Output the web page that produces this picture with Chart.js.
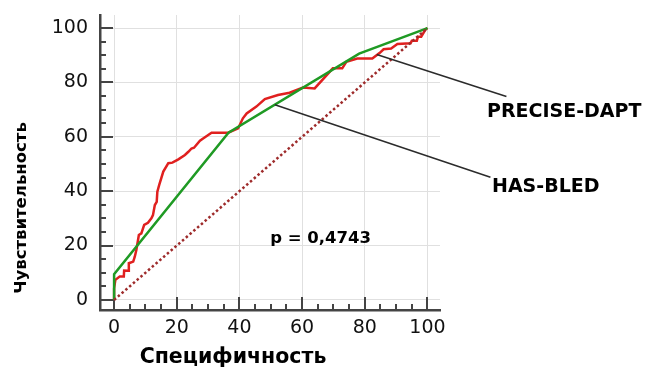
<!DOCTYPE html>
<html>
<head>
<meta charset="utf-8">
<script src="https://cdn.jsdelivr.net/npm/chart.js@4.4.1/dist/chart.umd.min.js"></script>
<style>
  html, body { margin: 0; padding: 0; background: #fff; }
</style>
</head>
<body>
<canvas id="roc" width="648" height="374"></canvas>
<script>
// PRECISE-DAPT ROC curve (specificity axis as drawn, sensitivity)
const preciseSpec = [0, 0, 0.4, 1.8, 3.1, 3.2, 4.5, 4.7, 6.1, 6.6, 7.1, 7.9, 8.7, 9.6, 10.8, 11.9, 12.4, 13, 13.6, 13.8, 14.4, 15.7, 17.3, 18.6, 20.5, 22.6, 23.7, 24.7, 25.5, 27.4, 28.4, 31.1, 36.4, 39.6, 41.1, 42.3, 45.4, 48.1, 52.3, 56, 60.3, 64, 69.8, 72.8, 74.1, 77.6, 82.4, 84.8, 86, 88.4, 90.4, 94.6, 95, 96.6, 97, 98, 99.4, 100];
const preciseSens = [0, 4.3, 7.4, 8.6, 8.6, 10.8, 10.7, 13.5, 14.1, 15.9, 18.4, 23.9, 24.5, 27.6, 28.4, 30, 31.2, 34.9, 36.1, 39.8, 42.3, 47.2, 50.3, 50.5, 51.7, 53.3, 54.5, 55.7, 56, 58.6, 59.4, 61.5, 61.5, 63.1, 66.8, 68.6, 71.1, 73.9, 75.4, 76.2, 78.1, 77.8, 85.2, 85.2, 87.6, 88.8, 88.8, 90.9, 92.2, 92.5, 94.1, 94.4, 95.3, 95.3, 96.8, 96.8, 99.5, 100];

// HAS-BLED ROC curve
const hasbledSpec = [0, 0, 36.5, 78.2, 100];
const hasbledSens = [0, 9.5, 61.5, 90.6, 100];

// reference diagonal
const diagSpec = [0, 100];
const diagSens = [0, 100];

const tickValues = [0, 5, 10, 15, 20, 25, 30, 35, 40, 45, 50, 55, 60, 65, 70, 75, 80, 85, 90, 95, 100];

// callouts: [x, y] from the curve to the label
const calloutFrom = [[83.8, 90.3], [51.3, 71.8]];
const calloutTo = [[125.2, 74.8], [120.1, 45.1]];
const calloutText = ['PRECISE-DAPT', 'HAS-BLED', 'p = 0,4743'];
const calloutTextPos = [[119.0, 69.0], [120.6, 41.4], [49.8, 22.7]];

const FONT = "'DejaVu Sans', Verdana, sans-serif";

const toPoints = (xs, ys) => xs.map((x, i) => ({ x: x, y: ys[i] }));
const setTicks = (scale) => { scale.ticks = tickValues.map(v => ({ value: v })); };
const gridColor = (ctx) => (ctx.tick && ctx.tick.value % 20 === 0 ? '#e0e0e0' : 'rgba(0,0,0,0)');

const extras = {
  id: 'extras',
  beforeDatasetsDraw(chart) {
    const { ctx, chartArea, scales } = chart;
    const x = scales.x, y = scales.y;
    ctx.save();
    ctx.strokeStyle = '#444';
    ctx.lineWidth = 2;
    tickValues.forEach(v => {
      const len = v % 20 === 0 ? 13 : 6;
      const py = Math.round(y.getPixelForValue(v));
      ctx.beginPath();
      ctx.moveTo(chartArea.left, py);
      ctx.lineTo(chartArea.left + len, py);
      ctx.stroke();
      const px = Math.round(x.getPixelForValue(v));
      ctx.beginPath();
      ctx.moveTo(px, chartArea.bottom);
      ctx.lineTo(px, chartArea.bottom - len);
      ctx.stroke();
    });
    ctx.restore();
  },
  afterDraw(chart) {
    const { ctx, scales } = chart;
    const x = scales.x, y = scales.y;
    ctx.save();
    ctx.strokeStyle = '#2b2b2b';
    ctx.lineWidth = 1.5;
    calloutFrom.forEach((p, i) => {
      ctx.beginPath();
      ctx.moveTo(x.getPixelForValue(p[0]), y.getPixelForValue(p[1]));
      ctx.lineTo(x.getPixelForValue(calloutTo[i][0]), y.getPixelForValue(calloutTo[i][1]));
      ctx.stroke();
    });
    ctx.fillStyle = '#000';
    ctx.textBaseline = 'middle';
    ctx.textAlign = 'left';
    calloutText.forEach((t, i) => {
      ctx.font = 'bold ' + (i < 2 ? 19 : 16.5) + 'px ' + FONT;
      ctx.fillText(t, x.getPixelForValue(calloutTextPos[i][0]), y.getPixelForValue(calloutTextPos[i][1]));
    });

    // axis titles
    ctx.textAlign = 'center';
    ctx.font = 'bold 20.5px ' + FONT;
    ctx.fillText('Специфичность', 233, 358);
    ctx.translate(22, 208);
    ctx.rotate(-Math.PI / 2);
    ctx.font = 'bold 16.5px ' + FONT;
    ctx.fillText('Чувствительность', 0, 0);
    ctx.restore();
  }
};

const chart = new Chart(document.getElementById('roc'), {
  type: 'scatter',
  data: {
    datasets: [
      {
        label: 'diagonal',
        data: toPoints(diagSpec, diagSens),
        showLine: true,
        borderColor: '#9e2b2b',
        borderWidth: 2.5,
        borderDash: [2.5, 2.5],
        pointRadius: 0,
      },
      {
        label: 'HAS-BLED',
        data: toPoints(hasbledSpec, hasbledSens),
        showLine: true,
        borderColor: '#1f9a24',
        borderWidth: 2.5,
        pointRadius: 0,
      },
      {
        label: 'PRECISE-DAPT',
        data: toPoints(preciseSpec, preciseSens),
        showLine: true,
        borderColor: '#e0201f',
        borderWidth: 2.5,
        pointRadius: 0,
      },
    ],
  },
  options: {
    responsive: false,
    animation: false,
    devicePixelRatio: 1,
    layout: { padding: { top: 15, right: 208, left: 0, bottom: 0 } },
    plugins: {
      legend: { display: false },
      tooltip: { enabled: false },
    },
    scales: {
      x: {
        type: 'linear',
        min: -4.5,
        max: 104,
        afterBuildTicks: setTicks,
        afterFit: (scale) => { scale.height = 64; scale.paddingLeft = 0; scale.paddingRight = 0; },
        grid: { color: gridColor, drawTicks: false, lineWidth: 1 },
        border: { display: true, color: '#444', width: 2.5 },
        ticks: {
          autoSkip: false,
          maxRotation: 0,
          padding: 7,
          color: '#111',
          font: { family: FONT, size: 19 },
          callback: (v) => (v % 20 === 0 ? v : ''),
        },
      },
      y: {
        type: 'linear',
        min: -3.7,
        max: 104.8,
        afterBuildTicks: setTicks,
        afterFit: (scale) => { scale.width = 100; scale.paddingTop = 0; scale.paddingBottom = 0; },
        grid: { color: gridColor, drawTicks: false, lineWidth: 1 },
        border: { display: true, color: '#444', width: 2.5 },
        ticks: {
          autoSkip: false,
          padding: 12,
          color: '#111',
          font: { family: FONT, size: 19 },
          callback: (v) => (v % 20 === 0 ? v : ''),
        },
      },
    },
  },
  plugins: [extras],
});
</script>
</body>
</html>
